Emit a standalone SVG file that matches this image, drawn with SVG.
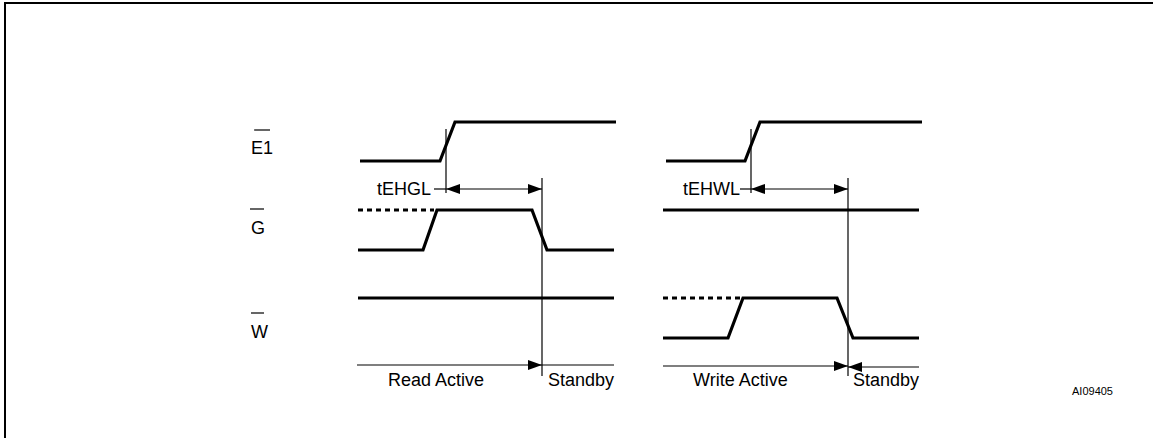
<svg xmlns="http://www.w3.org/2000/svg" width="1153" height="438" viewBox="0 0 1153 438">
<style>
.sig{fill:none;stroke:#000;stroke-width:3.2;stroke-linejoin:miter}
.dash{fill:none;stroke:#000;stroke-width:3.2;stroke-dasharray:5 4}
.thin{fill:none;stroke:#000;stroke-width:1.2}
.ov{stroke:#000;stroke-width:1.2}
text{font-family:"Liberation Sans",Arial,sans-serif;font-size:18px;fill:#000}
.small{font-size:11px}
</style>
<defs>
<marker id="ah" viewBox="0 0 14 10" refX="14" refY="5" markerWidth="14" markerHeight="10" markerUnits="userSpaceOnUse" orient="auto-start-reverse">
<path d="M0,0 L14,5 L0,10 Z" fill="#000"/>
</marker>
</defs>
<rect width="1153" height="438" fill="#fff"/>
<path d="M5,438 V3 H1153" fill="none" stroke="#000" stroke-width="2"/>

<g id="labels">
<text x="251" y="154">E1</text><line class="ov" x1="254" y1="130" x2="270" y2="130"/>
<text x="251" y="234">G</text><line class="ov" x1="250" y1="209" x2="264" y2="209"/>
<text x="251" y="338">W</text><line class="ov" x1="251" y1="313" x2="264" y2="313"/>
</g>

<g id="read-signals">
<path class="sig" d="M360,161 H440 L455,122 H616"/>
<path class="dash" d="M358,210 H434"/>
<path class="sig" d="M358,250 H423 L437,210 H532 L547,250 H614"/>
<path class="sig" d="M358,298 H614"/>
</g>

<g id="write-signals">
<path class="sig" d="M666,161 H745 L760,122 H922"/>
<path class="sig" d="M663,210 H919"/>
<path class="dash" d="M663,298 H740"/>
<path class="sig" d="M663,338 H728 L743,298 H837 L853,338 H919"/>
</g>

<g id="connectors">
<line class="thin" x1="446" y1="129" x2="446" y2="193"/>
<line class="thin" x1="542" y1="178" x2="542" y2="376"/>
<line class="thin" x1="434" y1="189" x2="446" y2="189"/>
<line class="thin" x1="446" y1="189" x2="542" y2="189" marker-start="url(#ah)" marker-end="url(#ah)"/>
<line class="thin" x1="357" y1="365" x2="542" y2="365" marker-end="url(#ah)"/>
<line class="thin" x1="542" y1="365" x2="614" y2="365"/>

<line class="thin" x1="751" y1="129" x2="751" y2="193"/>
<line class="thin" x1="848" y1="178" x2="848" y2="376"/>
<line class="thin" x1="740" y1="189" x2="751" y2="189"/>
<line class="thin" x1="751" y1="189" x2="848" y2="189" marker-start="url(#ah)" marker-end="url(#ah)"/>
<line class="thin" x1="663" y1="366" x2="848" y2="366" marker-end="url(#ah)"/>
<line class="thin" x1="848" y1="367" x2="919" y2="367" marker-start="url(#ah)"/>
</g>

<g id="texts">
<text x="377" y="195">tEHGL</text>
<text x="683" y="195">tEHWL</text>
<text x="388" y="386">Read Active</text>
<text x="548" y="386">Standby</text>
<text x="693" y="386">Write Active</text>
<text x="853" y="386">Standby</text>
<text class="small" x="1072" y="395">AI09405</text>
</g>
</svg>
